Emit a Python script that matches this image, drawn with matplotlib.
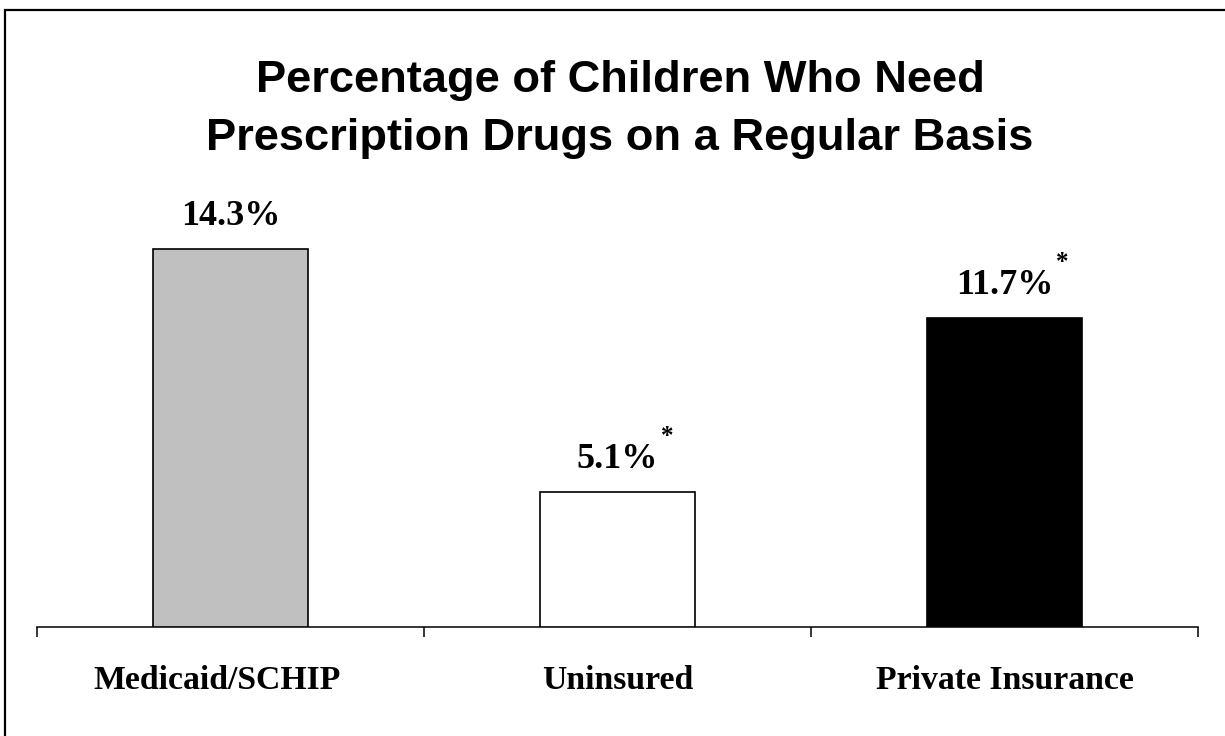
import matplotlib.pyplot as plt
from matplotlib.patches import Rectangle

# data
categories = ['Medicaid/SCHIP', 'Uninsured', 'Private Insurance']
values = [14.3, 5.1, 11.7]
significant = [False, True, True]
bar_colors = ['#C0C0C0', '#FFFFFF', '#000000']

title = 'Percentage of Children Who Need\nPrescription Drugs on a Regular Basis'

# horizontal nudge (points) of each category caption
label_nudge = [-10, 0, 0]

W, H = 1225, 736
fig = plt.figure(figsize=(W / 100, H / 100), dpi=100)
fig.patch.set_facecolor('white')

# frame around the whole slide (open at right and bottom)
fig.add_artist(Rectangle((4.5 / W, -0.05), 1.1, (H - 9.5) / H + 0.05,
                         transform=fig.transFigure, fill=False,
                         edgecolor='black', linewidth=1.6))

fig.text(620 / W, 1 - 60 / H, title, ha='center', va='top',
         fontsize=32.6, fontweight='bold', family='Liberation Sans',
         linespacing=1.52)

ax_left, ax_right, ax_base, ax_top = 37, 1198, 627, 180
ax = fig.add_axes([ax_left / W, 1 - ax_base / H,
                   (ax_right - ax_left) / W, (ax_base - ax_top) / H])

x = range(len(categories))
ax.bar(x, values, width=0.403, color=bar_colors, edgecolor='black',
       linewidth=1.2, zorder=3)

ax.set_xlim(-0.5, len(categories) - 0.5)
ax.set_ylim(0, (ax_base - ax_top) / 26.4)

for s in ['top', 'right', 'left']:
    ax.spines[s].set_visible(False)
ax.spines['bottom'].set_linewidth(1.1)
ax.set_yticks([])

# category boundaries as ticks, captions as text under each bar
ax.set_xticks([i - 0.5 for i in range(len(categories) + 1)])
ax.set_xticklabels([])
ax.tick_params(axis='x', length=7.5, width=1.1, direction='out')

for i, cat in enumerate(categories):
    ax.annotate(cat, xy=(i, 0), xycoords=('data', 'axes fraction'),
                xytext=(label_nudge[i], -44.5), textcoords='offset points',
                ha='center', va='baseline', fontsize=24.3,
                fontweight='bold', family='Liberation Serif')

for i, (v, star) in enumerate(zip(values, significant)):
    lbl = ax.annotate(f'{v}%', xy=(i, v), xytext=(0, 17.5),
                      textcoords='offset points', ha='center',
                      va='baseline', fontsize=26, fontweight='bold',
                      family='Liberation Serif')
    if star:
        ax.annotate('*', xy=(1, 1), xycoords=lbl, xytext=(2, 4.5),
                    textcoords='offset points', ha='left', va='center',
                    fontsize=18, fontweight='bold',
                    family='Liberation Serif')

fig.savefig('out.png', dpi=100, facecolor='white')
